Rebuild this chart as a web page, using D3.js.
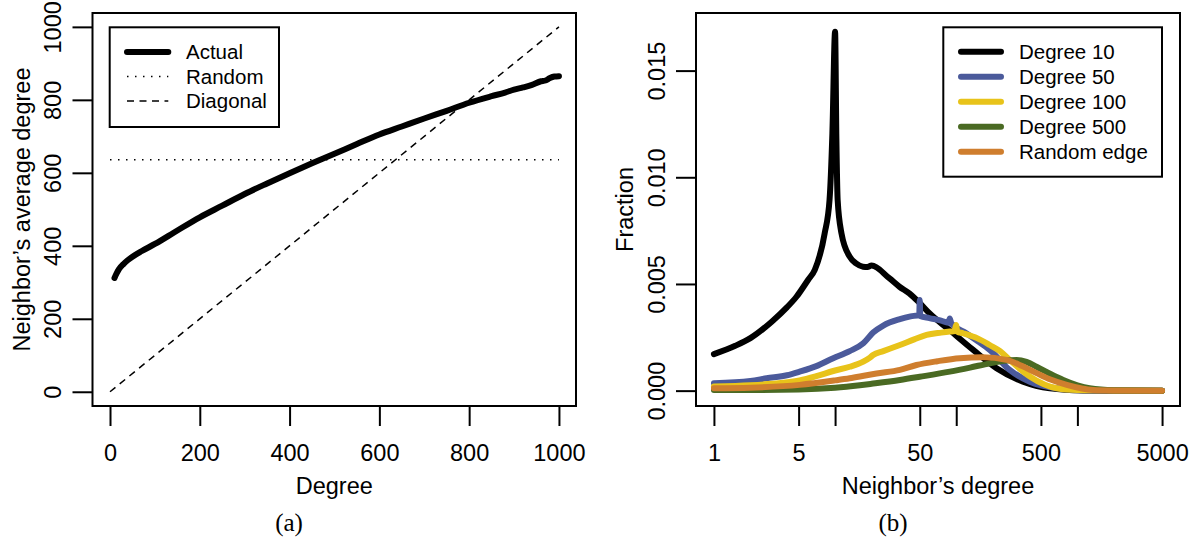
<!DOCTYPE html>
<html>
<head>
<meta charset="utf-8">
<script src="https://cdn.jsdelivr.net/npm/d3@7"></script>
<style>
  html, body { margin: 0; padding: 0; background: #fff; }
  svg { display: block; }
  text { font-family: "Liberation Sans", Arial, Helvetica, sans-serif; fill: #000; }
</style>
</head>
<body>
<svg id="chart" width="1202" height="545"></svg>
<script>
// ---------- Panel (a) data ----------
const actualDegree = [10, 15, 20, 30, 40, 50, 70, 100, 150, 200, 250, 300, 350, 400, 450, 500, 550, 600, 650, 700, 750, 800, 850, 880, 900, 920, 940, 960, 970, 980, 990, 1000];
const actualNeighborAvg = [312, 325, 336, 350, 361, 370, 385, 405, 442, 478, 510, 542, 571, 599, 626, 652, 679, 705, 727, 749, 770, 792, 810, 820, 828, 834, 841, 851, 853, 860, 864, 865];
const randomValue = 636;
const diagonalDegree = [0, 1000];
const leftTicks = [0, 200, 400, 600, 800, 1000];
const leftLegend = ["Actual", "Random", "Diagonal"];

// ---------- Panel (b) data ----------
const seriesNames = ["Degree 10", "Degree 50", "Degree 100", "Degree 500", "Random edge"];
const seriesColors = ["#000000", "#4B5A9B", "#E8C31A", "#4A6A23", "#CF7E2E"];

const deg10X = [1, 1.5, 2, 3, 4, 4.8, 6, 6.8, 8.2, 9.0, 9.5, 10, 10.25, 10.5, 11.3, 13.2, 15, 17, 18.5, 20, 28, 34, 41, 50, 60, 88, 138, 215, 356, 592, 1100, 2000, 5000];
const deg10Y = [0.00171, 0.0021, 0.00246, 0.00323, 0.0039, 0.0044, 0.0052, 0.00566, 0.00737, 0.00894, 0.01206, 0.01682, 0.0118, 0.00894, 0.00737, 0.00628, 0.00595, 0.00581, 0.0058, 0.00586, 0.00527, 0.00487, 0.00456, 0.0041, 0.00363, 0.00284, 0.00191, 0.00105, 0.00042, 0.00011, 0.00001, 0, 0];

const deg50X = [1, 2, 2.72, 4, 5.1, 7, 9.65, 13.2, 17.1, 20.6, 25, 34.3, 42, 49.5, 50, 50.5, 60, 75, 86, 88.5, 91, 121, 150, 189, 276, 405, 675, 1000, 2000, 5000];
const deg50Y = [0.00035, 0.00045, 0.00058, 0.00072, 0.00089, 0.00115, 0.00152, 0.00185, 0.00222, 0.00272, 0.00305, 0.00335, 0.00348, 0.00355, 0.00425, 0.0035, 0.0034, 0.00328, 0.00318, 0.00338, 0.00316, 0.00269, 0.00232, 0.00191, 0.00097, 0.00042, 0.00011, 0.00003, 0.00001, 0];

const deg100X = [1, 2, 3, 5.1, 7, 9.65, 13.2, 17.1, 19.4, 20.6, 25, 34.3, 45, 56.9, 75, 88.5, 97, 99.6, 102, 114, 150, 189, 230, 276, 405, 675, 1000, 2000, 5000];
const deg100Y = [0.00019, 0.00025, 0.00032, 0.00048, 0.00068, 0.00092, 0.00112, 0.00136, 0.00155, 0.00167, 0.00185, 0.00214, 0.0024, 0.00261, 0.00272, 0.00277, 0.00279, 0.00308, 0.00277, 0.00269, 0.00245, 0.00214, 0.00185, 0.00144, 0.00066, 0.00011, 0.00003, 0.00001, 0];

const deg500X = [1, 2, 5, 10, 16, 20, 34.3, 50, 88.5, 130, 189, 250, 315, 380, 460, 600, 764, 1000, 1260, 2000, 5000];
const deg500Y = [0.00003, 0.00003, 0.00005, 0.00013, 0.00025, 0.00032, 0.0005, 0.00065, 0.00089, 0.00108, 0.00128, 0.0014, 0.00144, 0.00135, 0.00112, 0.00078, 0.0005, 0.00025, 0.00011, 0.00002, 0];

const randEdgeX = [1, 2, 5.1, 10, 13.2, 18.2, 22, 34.3, 47, 70, 107, 166, 260, 350, 460, 600, 818, 1350, 2000, 5000];
const randEdgeY = [0.00011, 0.00014, 0.00027, 0.00048, 0.00058, 0.00072, 0.0008, 0.00097, 0.0012, 0.00138, 0.00152, 0.00156, 0.00144, 0.00115, 0.00082, 0.00052, 0.00027, 0.00003, 0.00001, 0];

const rightYTicks = [0, 0.005, 0.010, 0.015];
const rightYTickLabels = ["0.000", "0.005", "0.010", "0.015"];
const rightXTicks = [1, 5, 10, 50, 100, 500, 1000, 5000];
const rightXTickLabels = ["1", "5", "", "50", "", "500", "", "5000"];

// ---------- Layout ----------
const svg = d3.select("#chart");
const FS = 23.5, LFS = 20.5, TICK = 20;
const L = {left: 92.5, right: 576, top: 13, bottom: 406};
const R = {left: 696, right: 1180, top: 13, bottom: 406};

function box(b) {
  svg.append("rect").attr("x", b.left).attr("y", b.top)
    .attr("width", b.right - b.left).attr("height", b.bottom - b.top)
    .attr("fill", "none").attr("stroke", "#000").attr("stroke-width", 2);
}

function styleAxis(g) {
  g.select(".domain").remove();
  g.selectAll(".tick line").attr("stroke", "#000").attr("stroke-width", 2);
  g.selectAll("text").style("font-size", FS + "px").attr("fill", "#000")
    .style("font-family", '"Liberation Sans", Arial, Helvetica, sans-serif');
}

function yAxisRotated(scale, b, ticks, labels, cx) {
  const g = svg.append("g").attr("transform", `translate(${b.left},0)`)
    .call(d3.axisLeft(scale).tickValues(ticks).tickSize(TICK)
      .tickFormat((d, i) => labels ? labels[i] : d3.format("d")(d)));
  styleAxis(g);
  g.selectAll("text")
    .attr("x", null).attr("dy", null)
    .attr("text-anchor", "middle")
    .attr("transform", `translate(${cx - b.left + 0.358 * FS},0) rotate(-90)`);
}

function xAxis(scale, b, ticks, labels) {
  const g = svg.append("g").attr("transform", `translate(0,${b.bottom})`)
    .call(d3.axisBottom(scale).tickValues(ticks).tickSize(TICK)
      .tickFormat((d, i) => labels ? labels[i] : d3.format("d")(d)));
  styleAxis(g);
  g.selectAll("text").attr("y", 55).attr("dy", null);
}

// ---------- Panel (a) ----------
const xa = d3.scaleLinear().domain([-39, 1038]).range([L.left, L.right]);
const ya = d3.scaleLinear().domain([-39, 1038]).range([L.bottom, L.top]);

// diagonal
svg.append("path")
  .attr("d", d3.line().x(d => xa(d)).y(d => ya(d))(diagonalDegree))
  .attr("fill", "none").attr("stroke", "#000").attr("stroke-width", 1.5)
  .attr("stroke-dasharray", "7,5.5");
// random
svg.append("line")
  .attr("x1", xa(0)).attr("x2", xa(1000)).attr("y1", ya(randomValue)).attr("y2", ya(randomValue))
  .attr("stroke", "#000").attr("stroke-width", 1.5).attr("stroke-dasharray", "1.5,6.5");
// actual
const actualData = actualDegree.map((d, i) => [d, actualNeighborAvg[i]]);
svg.append("path")
  .attr("d", d3.line().curve(d3.curveMonotoneX).x(d => xa(d[0])).y(d => ya(d[1]))(actualData))
  .attr("fill", "none").attr("stroke", "#000").attr("stroke-width", 6)
  .attr("stroke-linecap", "round").attr("stroke-linejoin", "round");

box(L);
yAxisRotated(ya, L, leftTicks, null, 53);
xAxis(xa, L, leftTicks, null);

svg.append("text").attr("x", (L.left + L.right) / 2).attr("y", 494)
  .attr("text-anchor", "middle").style("font-size", FS + "px").text("Degree");
svg.append("text").attr("transform", `translate(${L.left - 63},${(L.top + L.bottom) / 2}) rotate(-90)`)
  .attr("text-anchor", "middle").style("font-size", FS + "px").text("Neighbor\u2019s average degree");

// legend (a)
const lgA = {x: 109.7, y: 27.3, w: 169.3, h: 99.7};
svg.append("rect").attr("x", lgA.x).attr("y", lgA.y).attr("width", lgA.w).attr("height", lgA.h)
  .attr("fill", "#fff").attr("stroke", "#000").attr("stroke-width", 2);
const lgAStyles = [
  {w: 6, dash: null},
  {w: 1.5, dash: "1.5,6.5"},
  {w: 1.5, dash: "7,5.5"}
];
leftLegend.forEach((name, i) => {
  const yy = 52 + i * 24.5;
  svg.append("line").attr("x1", 127).attr("x2", 168.3).attr("y1", yy).attr("y2", yy)
    .attr("stroke", "#000").attr("stroke-width", lgAStyles[i].w)
    .attr("stroke-linecap", i === 0 ? "round" : "butt")
    .attr("stroke-dasharray", lgAStyles[i].dash);
  svg.append("text").attr("x", 186).attr("y", yy + 0.358 * LFS)
    .style("font-size", LFS + "px").text(name);
});

// ---------- Panel (b) ----------
const xb = d3.scaleLog().domain([Math.pow(10, -0.148), Math.pow(10, 3.847)]).range([R.left, R.right]);
const yb = d3.scaleLinear().domain([-0.00072, 0.0177]).range([R.bottom, R.top]);

const seriesX = [deg10X, deg50X, deg100X, deg500X, randEdgeX];
const seriesY = [deg10Y, deg50Y, deg100Y, deg500Y, randEdgeY];
const lineB = d3.line().curve(d3.curveMonotoneX).x(d => xb(d[0])).y(d => yb(d[1]));
seriesNames.forEach((name, s) => {
  const data = seriesX[s].map((d, i) => [d, seriesY[s][i]]);
  svg.append("path").attr("d", lineB(data))
    .attr("fill", "none").attr("stroke", seriesColors[s]).attr("stroke-width", 6)
    .attr("stroke-linecap", "round").attr("stroke-linejoin", "round");
});

box(R);
yAxisRotated(yb, R, rightYTicks, rightYTickLabels, 656.7);
xAxis(xb, R, rightXTicks, rightXTickLabels);

svg.append("text").attr("x", (R.left + R.right) / 2).attr("y", 494)
  .attr("text-anchor", "middle").style("font-size", FS + "px").text("Neighbor\u2019s degree");
svg.append("text").attr("transform", `translate(${R.left - 63},${(R.top + R.bottom) / 2}) rotate(-90)`)
  .attr("text-anchor", "middle").style("font-size", FS + "px").text("Fraction");

// legend (b)
const lgB = {x: 943.3, y: 27.3, w: 218.7, h: 149.4};
svg.append("rect").attr("x", lgB.x).attr("y", lgB.y).attr("width", lgB.w).attr("height", lgB.h)
  .attr("fill", "#fff").attr("stroke", "#000").attr("stroke-width", 2);
seriesNames.forEach((name, i) => {
  const yy = 51.7 + i * 25;
  svg.append("line").attr("x1", 961).attr("x2", 1001).attr("y1", yy).attr("y2", yy)
    .attr("stroke", seriesColors[i]).attr("stroke-width", 6).attr("stroke-linecap", "round");
  svg.append("text").attr("x", 1019).attr("y", yy + 0.358 * LFS)
    .style("font-size", LFS + "px").text(name);
});

// sub-captions
const captionFont = '"Liberation Serif", "DejaVu Serif", serif';
svg.append("text").attr("x", 289).attr("y", 522).attr("text-anchor", "middle")
  .attr("dominant-baseline", "central")
  .style("font-family", captionFont).style("font-size", "25px")
  .attr("fill", "#222").text("(a)");
svg.append("text").attr("x", 893).attr("y", 522).attr("text-anchor", "middle")
  .attr("dominant-baseline", "central")
  .style("font-family", captionFont).style("font-size", "25px")
  .attr("fill", "#222").text("(b)");
</script>
</body>
</html>
